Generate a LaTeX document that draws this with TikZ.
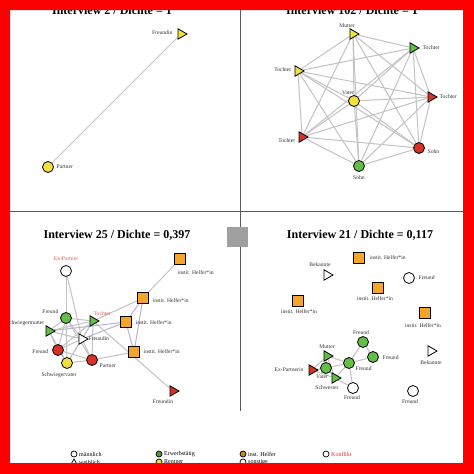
\documentclass[tikz,border=0pt]{standalone}
\usepackage{fontspec}
\setmainfont{Liberation Serif}
\usetikzlibrary{shapes.geometric}
\pgfdeclarelayer{bg}
\pgfsetlayers{bg,main}
\definecolor{vgreen}{RGB}{100,190,70}
\definecolor{vred}{RGB}{215,50,40}
\definecolor{vyellow}{RGB}{240,225,60}
\definecolor{vorange}{RGB}{245,165,40}
\definecolor{edgec}{RGB}{195,195,195}
\definecolor{edgeb}{RGB}{185,180,215}
\definecolor{divc}{RGB}{90,90,90}
\tikzset{
  vc/.style={circle,draw=black,line width=0.8pt,minimum size=11pt,inner sep=0pt},
  vt/.style={regular polygon,regular polygon sides=3,shape border rotate=-90,draw=black,line width=0.8pt,minimum size=12pt,inner sep=0pt},
  vs/.style={rectangle,draw=black,line width=0.8pt,minimum size=10.5pt,inner sep=0pt,fill=vorange},
  lb/.style={font=\fontsize{5.6}{6}\selectfont,inner sep=0.5pt,text=black!80},
  lbr/.style={lb,text=vred!80},
  ttl/.style={font=\fontsize{12}{13}\selectfont\bfseries,anchor=base},
  ed/.style={draw=edgec,line width=1pt},
  edb/.style={draw=edgeb,line width=1pt},
  lg/.style={font=\fontsize{6}{7}\selectfont,anchor=west,inner sep=0pt},
}
\begin{document}
\begin{tikzpicture}[x=1pt,y=-1pt]
\useasboundingbox (0,0) rectangle (474,474);
\begin{pgfonlayer}{bg}
\fill[white] (0,0) rectangle (474,474);
\end{pgfonlayer}
% dividers
\draw[divc,line width=0.9pt] (10,211) -- (463,211);
\draw[divc,line width=0.9pt] (240,10) -- (240,411);
\fill[gray!75] (227,227) rectangle (248,247);

% ---------------- Interview 2
\node[ttl] (t2) at (112,14) {Interview 2 / Dichte = 1};
\node[vt,fill=vyellow] (a1) at (181,34) {};
\node[vc,fill=vyellow] (a2) at (48,167) {};
\node[lb,anchor=east] (la1) at (173,33) {Freundin};
\node[lb,anchor=west] (la2) at (56,167) {Partner};
\begin{pgfonlayer}{bg}
\draw[ed] (a1) -- (a2);
\end{pgfonlayer}

% ---------------- Interview 102
\node[ttl] (t102) at (352,14) {Interview 102 / Dichte = 1};
\node[vt,fill=vyellow] (b1) at (353,34) {};
\node[vt,fill=vgreen] (b2) at (413,48) {};
\node[vt,fill=vyellow] (b3) at (298,71) {};
\node[vc,fill=vyellow] (b4) at (354,101) {};
\node[vt,fill=vred] (b5) at (431,97) {};
\node[vt,fill=vred] (b6) at (302,137) {};
\node[vc,fill=vred] (b7) at (419,148) {};
\node[vc,fill=vgreen] (b8) at (359,166) {};
\node[lb] (lb1) at (347,26) {Mutter};
\node[lb,anchor=west] (lb2) at (422,48) {Tochter};
\node[lb,anchor=east] (lb3) at (292,70) {Tochter};
\node[lb] (lb4) at (348,93) {Vater};
\node[lb,anchor=west] (lb5) at (439,97) {Tochter};
\node[lb,anchor=east] (lb6) at (296,141) {Tochter};
\node[lb,anchor=west] (lb7) at (427,152) {Sohn};
\node[lb] (lb8) at (359,178) {Sohn};
\begin{pgfonlayer}{bg}
\foreach \i/\j in {b1/b2,b1/b3,b1/b4,b1/b5,b1/b6,b1/b7,b1/b8,
  b2/b3,b2/b4,b2/b5,b2/b6,b2/b7,b2/b8,
  b3/b4,b3/b5,b3/b6,b3/b7,b3/b8,
  b4/b5,b4/b6,b4/b7,b4/b8,
  b5/b6,b5/b7,b5/b8,
  b6/b7,b6/b8,b7/b8}
  \draw[ed] (\i) -- (\j);
\end{pgfonlayer}

% ---------------- Interview 25
\node[ttl] (t25) at (117,238) {Interview 25 / Dichte = 0,397};
\node[vc,fill=white] (c1) at (66,271) {};
\node[vs] (c2) at (180,259) {};
\node[vs] (c3) at (143,298) {};
\node[vs] (c4) at (126,322) {};
\node[vs] (c5) at (134,352) {};
\node[vt,fill=vred] (c6) at (173,391) {};
\node[vc,fill=vgreen] (c7) at (66,318) {};
\node[vt,fill=vgreen] (c8) at (93,321) {};
\node[vt,fill=vgreen] (c9) at (49,331) {};
\node[vt,fill=white] (c10) at (82,339) {};
\node[vc,fill=vred] (c11) at (58,350) {};
\node[vc,fill=vyellow] (c12) at (67,363) {};
\node[vc,fill=vred] (c13) at (92,360) {};
\node[lbr] (lc1) at (66,259) {Ex-Partner};
\node[lb,anchor=west] (lc2) at (177,273) {instit. Helfer*in};
\node[lb,anchor=west] (lc3) at (152,301) {instit. Helfer*in};
\node[lb,anchor=west] (lc4) at (135,323) {instit. Helfer*in};
\node[lb,anchor=west] (lc5) at (143,352) {instit. Helfer*in};
\node[lb] (lc6) at (163,402) {Freundin};
\node[lb,anchor=east] (lc7) at (59,312) {Freund};
\node[lbr,anchor=west] (lc8) at (93,314) {Tochter};
\node[lb,anchor=east] (lc9) at (45,323) {Schwiegermutter};
\node[lb,anchor=west] (lc10) at (88,339) {Freundin};
\node[lb,anchor=east] (lc11) at (49,352) {Freund};
\node[lb] (lc12) at (59,375) {Schwiegervater};
\node[lb,anchor=west] (lc13) at (99,366) {Partner};
\begin{pgfonlayer}{bg}
\foreach \i/\j in {c1/c7,c1/c10,c2/c3,c3/c8,c6/c8,
  c7/c8,c7/c9,c7/c10,c7/c11,c7/c12,c7/c13,c8/c9,c8/c10,c8/c11,c8/c12,c8/c13,
  c9/c10,c9/c11,c9/c12,c10/c11,c10/c12,c10/c13,c11/c12,c11/c13,c12/c13,c5/c13}
  \draw[ed] (\i) -- (\j);
\foreach \i/\j in {c3/c4,c3/c5,c4/c5,c4/c10,c4/c9}
  \draw[edb] (\i) -- (\j);
\end{pgfonlayer}

% ---------------- Interview 21
\node[ttl] (t21) at (360,238) {Interview 21 / Dichte = 0,117};
\node[vt,fill=white] (d1) at (327,275) {};
\node[vs] (d2) at (359,258) {};
\node[vc,fill=white] (d3) at (409,278) {};
\node[vs] (d4) at (378,288) {};
\node[vs] (d5) at (298,301) {};
\node[vs] (d6) at (425,313) {};
\node[vc,fill=vgreen] (d7) at (363,342) {};
\node[vc,fill=vgreen] (d8) at (373,357) {};
\node[vc,fill=vgreen] (d9) at (349,363) {};
\node[vt,fill=vgreen] (d10) at (327,356) {};
\node[vc,fill=vgreen] (d11) at (326,368) {};
\node[vt,fill=vred] (d12) at (312,370) {};
\node[vt,fill=vgreen] (d13) at (335,378) {};
\node[vc,fill=white] (d14) at (353,388) {};
\node[vt,fill=white] (d15) at (431,351) {};
\node[vc,fill=white] (d16) at (413,391) {};
\node[lb] (ld1) at (320,265) {Bekannte};
\node[lb,anchor=west] (ld2) at (369,258) {instit. Helfer*in};
\node[lb,anchor=west] (ld3) at (418,278) {Freund};
\node[lb] (ld4) at (375,299) {instit. Helfer*in};
\node[lb] (ld5) at (299,312) {instit. Helfer*in};
\node[lb] (ld6) at (423,326) {instit. Helfer*in};
\node[lb] (ld7) at (361,333) {Freund};
\node[lb,anchor=west] (ld8) at (382,358) {Freund};
\node[lb,anchor=west] (ld9) at (355,369) {Freund};
\node[lb] (ld10) at (327,347) {Mutter};
\node[lb] (ld11) at (322,377) {Vater};
\node[lb,anchor=east] (ld12) at (304,370) {Ex-Partnerin};
\node[lb] (ld13) at (327,388) {Schwester};
\node[lb] (ld14) at (352,398) {Freund};
\node[lb] (ld15) at (431,363) {Bekannte};
\node[lb] (ld16) at (410,402) {Freund};
\begin{pgfonlayer}{bg}
\foreach \i/\j in {d7/d9,d8/d9,d9/d10,d9/d11,d9/d13,d9/d14,d10/d11,d10/d12,
  d11/d12,d11/d13,d13/d14,d7/d8,d10/d13,d12/d13}
  \draw[ed] (\i) -- (\j);
\end{pgfonlayer}

% ---------------- legend
\node[vc,fill=white,minimum size=6pt,line width=0.7pt] (g1) at (74,454) {};
\node[regular polygon,regular polygon sides=3,draw=black,line width=0.7pt,minimum size=8pt,inner sep=0pt] (g1b) at (74,463) {};
\node[lg] (g1t) at (79,454) {männlich};
\node[lg] (g1u) at (79,462) {weiblich};
\node[vc,fill=vgreen!80!black,minimum size=6pt,line width=0.7pt] (g2) at (159,454) {};
\node[vc,fill=vyellow,minimum size=6pt,line width=0.7pt] (g2b) at (159,462) {};
\node[lg] (g2t) at (164,454) {Erwerbstätig};
\node[lg] (g2u) at (164,462) {Rentner};
\node[vc,fill=vorange!80!black,minimum size=6pt,line width=0.7pt] (g3) at (243,454) {};
\node[vc,fill=white,minimum size=6pt,line width=0.7pt] (g3b) at (243,462) {};
\node[lg] (g3t) at (248,454) {inst. Helfer};
\node[lg] (g3u) at (248,462) {sonstige};
\node[vc,fill=white,minimum size=6pt,line width=0.7pt] (g4) at (326,454) {};
\node[lg,text=vred] (g4t) at (331,454) {Konflikt};

% red frame
\fill[red,even odd rule] (0,0) rectangle (474,474) (10,10) rectangle (463,463);
\end{tikzpicture}
\end{document}
